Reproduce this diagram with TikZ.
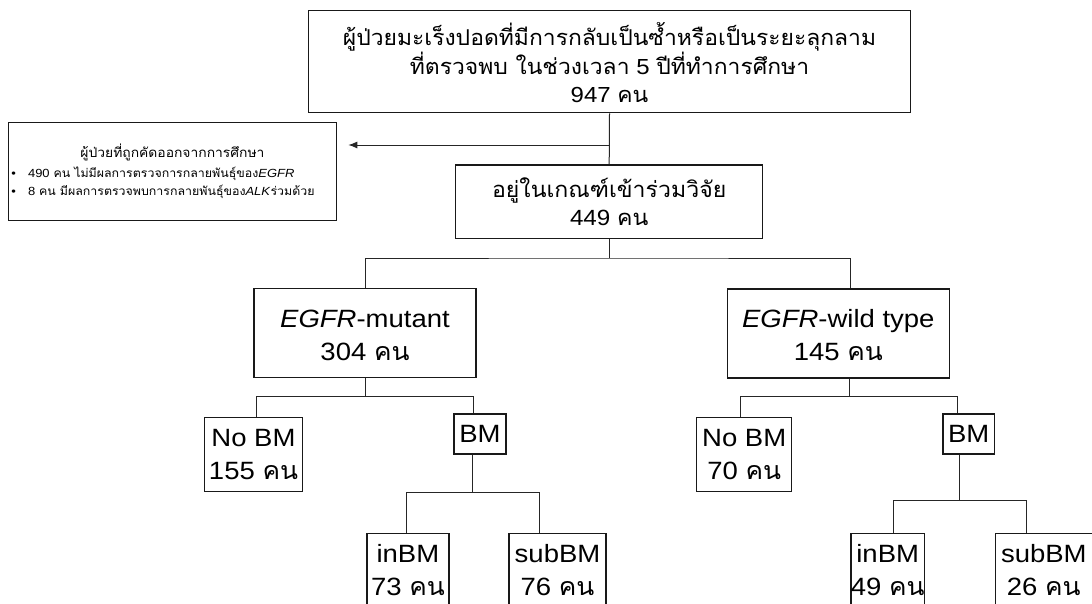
\documentclass[tikz,border=0pt]{standalone}
\usepackage{fontspec}
\setmainfont{Liberation Sans}[FakeStretch=1.1]
\newfontfamily\thai[Script=Thai,FakeStretch=1.05]{Loma}
\usetikzlibrary{calc,arrows.meta}
\begin{document}
\begin{tikzpicture}[x=1pt,y=-1pt,
  box/.style={draw=black!90, line width=1.5pt, align=center, inner sep=0pt},
  lbox/.style={box, font=\fontsize{25}{33}\selectfont},
  conn/.style={draw=black!85, line width=1pt},
  arr/.style={conn, -{Latex[length=9pt,width=7pt]}}]
\useasboundingbox (0,0) rectangle (1092,603);
\clip (0,0) rectangle (1092,603);

\node[box, minimum width=602pt, minimum height=102pt, font=\fontsize{21.8}{28.6}\selectfont] (top) at (609.5,61.7)
  {\rule{0pt}{25pt}{\thai ผู้ป่วยมะเร็งปอดที่มีการกลับเป็นซ้ำหรือเป็นระยะลุกลาม}\\{\thai ที่ตรวจพบ ในช่วงเวลา} 5 {\thai ปีที่ทำการศึกษา}\\947 {\thai คน}};

\node[box, line width=1pt, minimum width=328pt, minimum height=98pt, text width=322pt, align=left,
  font=\fontsize{11.8}{18}\selectfont] (excl) at (172.5,171.5)
  {\makebox[322pt][c]{\fontsize{13.2}{18}\selectfont\thai ผู้ป่วยที่ถูกคัดออกจากการศึกษา}\\[2pt]
   \textbullet\hspace{12pt}490 {\thai คน ไม่มีผลการตรวจการกลายพันธุ์ของ}\textit{EGFR}\\
   \textbullet\hspace{12pt}8 {\thai คน มีผลการตรวจพบการกลายพันธุ์ของ}\textit{ALK}{\thai ร่วมด้วย}};

\node[box, minimum width=307pt, minimum height=73.7pt, font=\fontsize{22}{28}\selectfont] (incl) at (609.2,201.8)
  {{\thai อยู่ในเกณฑ์เข้าร่วมวิจัย}\\449 {\thai คน}};

\node[lbox, minimum width=222pt, minimum height=89pt] (mut) at (365,333.2) {\rule{0pt}{22pt}\textit{EGFR}-mutant\\304 {\thai คน}};
\node[lbox, minimum width=222pt, minimum height=89pt] (wild) at (838.3,333.3) {\rule{0pt}{22pt}\textit{EGFR}-wild type\\145 {\thai คน}};

\node[lbox, minimum width=97.6pt, minimum height=73.6pt] (nobm1) at (253.5,454.5) {No BM\\155 {\thai คน}};
\node[lbox, minimum width=51.7pt, minimum height=40pt] (bm1) at (479.9,434) {BM};
\node[lbox, minimum width=81.7pt, minimum height=74pt] (inbm1) at (407.9,570.3) {inBM\\73 {\thai คน}};
\node[lbox, minimum width=97pt, minimum height=74pt] (subbm1) at (557.5,570.3) {subBM\\76 {\thai คน}};

\node[lbox, minimum width=95pt, minimum height=73.6pt] (nobm2) at (744.2,454.5) {No BM\\70 {\thai คน}};
\node[lbox, minimum width=51.3pt, minimum height=40pt] (bm2) at (968.7,434) {BM};
\node[lbox, minimum width=71.3pt, minimum height=74pt] (inbm2) at (887.7,570.3) {inBM\\49 {\thai คน}};
\node[lbox, minimum width=97pt, minimum height=74pt] (subbm2) at (1043.8,570.3) {subBM\\26 {\thai คน}};

\draw[conn] (top.south) -- (incl.north);
\coordinate (a0) at (0,145);
\draw[arr] (top.south |- a0) -- ($(a0 -| excl.east)+(11.3,0)$);

\draw[conn] (incl.south) -- ++(0,18.6) coordinate (b0);
\draw[conn] (mut.north) |- (b0) -| ($(wild.north)+(12.4,0)$);

\draw[conn] ($(mut.south)+(0.3,0)$) -- ++(0,18) coordinate (b1);
\draw[conn] ($(nobm1.north)+(3.2,0)$) |- (b1) -| ($(bm1.north)+(-6.6,0)$);
\draw[conn] ($(bm1.south)+(-7.6,0)$) -- ++(0,37.7) coordinate (b2);
\draw[conn] ($(inbm1.north)+(-1.9,0)$) |- (b2) -| ($(subbm1.north)+(-18.2,0)$);

\draw[conn] ($(wild.south)+(11,0)$) -- ++(0,18) coordinate (b3);
\draw[conn] ($(nobm2.north)+(-3.5,0)$) |- (b3) -| ($(bm2.north)+(-11,0)$);
\draw[conn] ($(bm2.south)+(-9.4,0)$) -- ++(0,45.7) coordinate (b4);
\draw[conn] ($(inbm2.north)+(5.6,0)$) |- (b4) -| ($(subbm2.north)+(-17.1,0)$);
\end{tikzpicture}
\end{document}
